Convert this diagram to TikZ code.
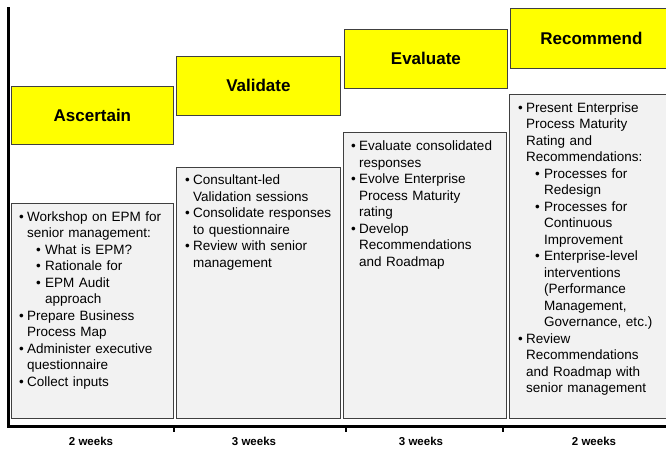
\documentclass[tikz,border=0pt]{standalone}
\usepackage{fontspec}
\setmainfont{Liberation Sans}
\usepackage{xcolor}
\usepackage{tikz}
\definecolor{phaseyellow}{HTML}{FFFF00}
\definecolor{boxgrey}{HTML}{F2F2F2}
\definecolor{edgegrey}{HTML}{404040}
\tikzset{phase/.style={draw=edgegrey,fill=phaseyellow,line width=0.8pt,anchor=north west,inner sep=0pt,font=\fontsize{17}{20}\selectfont\bfseries},
	bodybox/.style={draw=edgegrey,fill=boxgrey,line width=0.8pt,anchor=north west,inner sep=0pt},
	bodytext/.style={anchor=north west,inner sep=0pt,text width=200pt,font=\fontsize{13.5}{16.5}\selectfont},
	weeks/.style={anchor=base,inner sep=0pt,font=\fontsize{11.5}{13}\selectfont\bfseries},
	axis/.style={line width=3pt,black},
	tick/.style={line width=2pt,black}}
% bullet items, first and second level
\newcommand{\bul}{\par\hangindent=16pt\hangafter=1\noindent\hbox to 16pt{\rule{0pt}{13pt}\hskip 8pt\textbullet\hfil}}
\newcommand{\subbul}{\par\hangindent=34pt\hangafter=1\noindent\hbox to 34pt{\rule{0pt}{13pt}\hskip 25pt\textbullet\hfil}}
\newcommand{\nl}{\newline}

\begin{document}
\begin{tikzpicture}[x=1pt,y=-1pt]
	\useasboundingbox (0,0) rectangle (666,448);
	%
	% phase headers
	\node[phase,minimum width=162pt,minimum height=58pt] (ascertain) at (11,86) {Ascertain};
	\node[phase,minimum width=164pt,minimum height=59pt] (validate) at (176,56) {Validate};
	\node[phase,minimum width=163pt,minimum height=59pt] (evaluate) at (344,29) {Evaluate};
	\node[phase,minimum width=162pt,minimum height=60pt] (recommend) at (510,8) {Recommend};
	%
	% activity boxes
	\node[bodybox,minimum width=162pt,minimum height=215pt] (ascertainBox) at (11,203) {};
	\node[bodybox,minimum width=164pt,minimum height=251pt] (validateBox) at (176,167) {};
	\node[bodybox,minimum width=163pt,minimum height=286pt] (evaluateBox) at (343,132) {};
	\node[bodybox,minimum width=163pt,minimum height=324pt] (recommendBox) at (509,94) {};
	%
	\node[bodytext] (ascertainText) at (11,204.5) {\setlength\parskip{0pt}%
		\bul Workshop on EPM for\nl senior management:
		\subbul What is EPM?
		\subbul Rationale for
		\subbul EPM Audit\nl approach
		\bul Prepare Business\nl Process Map
		\bul Administer executive\nl questionnaire
		\bul Collect inputs\par};
	\node[bodytext] (validateText) at (177,168) {\setlength\parskip{0pt}%
		\bul Consultant-led\nl Validation sessions
		\bul Consolidate responses\nl to questionnaire
		\bul Review with senior\nl management\par};
	\node[bodytext] (evaluateText) at (343,134) {\setlength\parskip{0pt}%
		\bul Evaluate consolidated\nl responses
		\bul Evolve Enterprise\nl Process Maturity\nl rating
		\bul Develop\nl Recommendations\nl and Roadmap\par};
	\node[bodytext] (recommendText) at (510,95.5) {\setlength\parskip{0pt}%
		\bul Present Enterprise\nl Process Maturity\nl Rating and\nl Recommendations:
		\subbul Processes for\nl Redesign
		\subbul Processes for\nl Continuous\nl Improvement
		\subbul Enterprise-level\nl interventions\nl (Performance\nl Management,\nl Governance, etc.)
		\bul Review\nl Recommendations\nl and Roadmap with\nl senior management\par};
	%
	% time axis
	\coordinate (axisTop) at (8,7);
	\coordinate (origin) at (8,426);
	\coordinate (axisEnd) at (666,426);
	\draw[axis] (axisTop) -- (origin) -- (axisEnd);
	\foreach \x in {174,346,503}
		\draw[tick] (\x,426) -- (\x,432);
	%
	\node[weeks] (wAscertain) at (91,445) {2 weeks};
	\node[weeks] (wValidate) at (254,445) {3 weeks};
	\node[weeks] (wEvaluate) at (421,445) {3 weeks};
	\node[weeks] (wRecommend) at (594,445) {2 weeks};
\end{tikzpicture}
\end{document}
